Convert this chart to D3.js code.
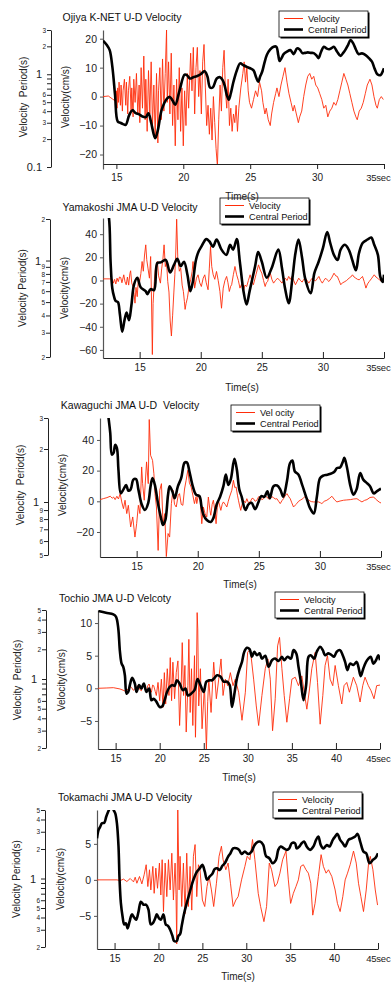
<!DOCTYPE html>
<html>
<head>
<meta charset="utf-8">
<script src="https://cdn.jsdelivr.net/npm/d3@7"></script>
<style>
body { margin: 0; background: #fff; }
svg { display: block; font-family: "Liberation Sans", Arial, sans-serif; }
text { white-space: pre; }
</style>
</head>
<body>
<svg id="chart" width="391" height="983"></svg>
<script>
// ---- data: [time (s), value] ----
const titles = ['Ojiya K-NET U-D Velocity', 'Yamakoshi JMA U-D Velocity', 'Kawaguchi JMA U-D  Velocity',
  'Tochio JMA U-D Velcoty', 'Tokamachi JMA U-D Velocity'];
const periodLabels = ['Velocity  Period(s)', 'Velocity Period(s)', 'Velocity  Period(s)', 'Velocity  Period(s)', 'Velocity Period(s)'];
const legendVelocity = ['Velocity', 'Velocity', 'Vel ocity', 'Velocity', 'Velocity'];

const timeDomains = [[14, 35], [12, 35], [12, 35], [13, 45], [13, 45]];
const velDomains = [[-25, 23], [-67, 54], [-36.3, 54.3], [-9.3, 12], [-9.6, 9.7]];
const periodDomains = [[0.1, 3], [0.2, 2], [0.5, 3], [0.2, 5], [0.2, 5]];

const timeTicks = [[15, 20, 25, 30, 35], [15, 20, 25, 30, 35], [15, 20, 25, 30, 35],
  [15, 20, 25, 30, 35, 40, 45], [15, 20, 25, 30, 35, 40, 45]];
const velTicks = [[-20, -10, 0, 10, 20], [-60, -40, -20, 0, 20, 40], [-20, 0, 20, 40], [-5, 0, 5, 10], [-5, 0, 5]];
const periodTicks = [[0.1, 0.2, 0.3, 0.4, 0.5, 0.6, 1, 2, 3], [0.2, 0.3, 0.4, 0.5, 0.6, 0.7, 0.8, 0.9, 1, 2],
  [0.5, 0.6, 0.7, 0.8, 0.9, 1, 2, 3], [0.2, 0.3, 0.4, 0.5, 0.6, 1, 2, 3, 4, 5], [0.2, 0.3, 0.4, 0.5, 0.6, 1, 2, 3, 4, 5]];
const periodMinor = [[0.7, 0.8, 0.9], [], [], [0.7, 0.8, 0.9], [0.7, 0.8, 0.9]];

const ojiyaVelocity = [[14.0,0],[14.4,0.2],[14.7,-0.8],[14.95,-1.6],[15.0,2],[15.05,-4],[15.1,3],[15.15,-2],[15.2,5],[15.3,-3],[15.35,4],[15.45,-5],[15.5,2],[15.6,6],[15.7,-3],[15.75,5],[15.85,-6],[15.9,2],[16.0,7],[16.1,-5],[16.15,3],[16.25,-7],[16.3,6],[16.4,-2],[16.5,8],[16.6,-6],[16.7,4],[16.75,-9],[16.85,10],[16.95,-4],[17.05,14],[17.15,-8],[17.2,6],[17.3,-12],[17.4,9],[17.5,-6],[17.6,12],[17.7,-10],[17.8,4],[17.9,-14],[18.0,8],[18.1,-16],[18.15,2],[18.25,10],[18.35,-8],[18.45,13],[18.55,-5],[18.65,8],[18.75,23],[18.8,-2],[18.9,12],[19.0,-6],[19.1,15],[19.2,-10],[19.3,4],[19.4,-17],[19.5,6],[19.6,-8],[19.7,10],[19.8,-12],[19.9,3],[20.0,-17],[20.1,2],[20.2,-10],[20.3,8],[20.4,-4],[20.55,15],[20.65,2],[20.75,17],[20.85,-6],[20.95,10],[21.05,17],[21.15,0],[21.25,9],[21.35,-6],[21.45,12],[21.55,18],[21.65,3],[21.75,-10],[21.85,-3],[21.95,-13],[22.05,-4],[22.15,-15],[22.25,0],[22.35,-9],[22.45,-18],[22.55,-24],[22.65,-8],[22.75,4],[22.85,-5],[22.95,10],[23.05,16],[23.15,2],[23.25,-4],[23.35,6],[23.45,-10],[23.55,-4],[23.65,-12],[23.75,-6],[23.85,-9],[23.95,-3],[24.05,-12],[24.15,-4],[24.3,3],[24.45,8],[24.55,12],[24.65,5],[24.75,10],[24.85,2],[24.95,-2],[25.1,-4],[25.25,-1],[25.4,2],[25.55,0],[25.7,5],[25.85,2],[25.95,-2],[26.1,-6],[26.2,-4],[26.35,-8],[26.5,-10],[26.6,-6],[26.75,-2],[26.9,1],[27.0,3],[27.15,0],[27.3,4],[27.45,7],[27.6,10],[27.75,5],[27.9,1],[28.05,-2],[28.2,-5],[28.3,-3],[28.45,-6],[28.6,-9],[28.7,-7],[28.85,-5],[29.0,0],[29.15,4],[29.3,7],[29.45,8],[29.6,6],[29.75,7],[29.9,4],[30.05,3],[30.2,1],[30.35,-1],[30.5,-4],[30.65,-3],[30.8,-7],[30.95,-5],[31.1,-4],[31.25,-2],[31.4,-3],[31.55,-1],[31.7,2],[31.85,5],[32.0,8],[32.15,6],[32.3,4],[32.45,1],[32.6,-2],[32.75,-5],[32.9,-7],[33.0,-8],[33.15,-5],[33.3,-4],[33.45,-2],[33.6,1],[33.75,4],[33.95,6],[34.1,4],[34.25,0],[34.4,-3],[34.5,-4],[34.65,-1],[34.8,0],[34.95,-1]];
const ojiyaPeriod = [[14.0,2.3],[14.3,2.05],[14.5,1.82],[14.7,1.2],[14.9,0.6],[15.1,0.31],[15.3,0.30],[15.5,0.29],[15.7,0.285],[15.95,0.36],[16.2,0.41],[16.45,0.38],[16.7,0.37],[16.95,0.35],[17.2,0.345],[17.4,0.38],[17.6,0.30],[17.9,0.204],[18.1,0.25],[18.4,0.42],[18.8,0.55],[19.0,0.57],[19.2,0.52],[19.4,0.47],[19.7,0.65],[20.1,0.99],[20.3,0.97],[20.5,0.9],[20.75,0.93],[21.0,0.95],[21.3,1.0],[21.6,1.08],[21.8,0.95],[22.0,0.72],[22.2,0.72],[22.5,0.9],[22.75,0.93],[22.95,0.86],[23.1,0.75],[23.25,0.60],[23.4,0.53],[23.55,0.62],[23.75,0.83],[24.0,1.1],[24.25,1.31],[24.5,1.25],[24.75,1.2],[25.0,1.16],[25.25,1.1],[25.45,0.92],[25.6,0.83],[25.75,0.95],[25.9,1.07],[26.05,1.3],[26.25,1.62],[26.5,1.85],[26.75,1.98],[26.95,1.98],[27.1,1.6],[27.2,1.39],[27.35,1.5],[27.5,1.65],[27.75,1.75],[28.0,1.82],[28.25,1.65],[28.5,1.9],[28.7,1.85],[28.9,1.69],[29.1,1.7],[29.3,1.72],[29.55,1.7],[29.75,1.69],[29.95,1.6],[30.1,1.49],[30.3,1.75],[30.5,1.98],[30.7,1.9],[30.9,1.86],[31.1,1.92],[31.25,1.98],[31.5,1.75],[31.75,1.58],[31.95,1.7],[32.1,1.82],[32.3,2.05],[32.5,2.34],[32.7,2.15],[32.9,1.85],[33.1,1.65],[33.35,1.68],[33.6,1.62],[33.85,1.5],[34.1,1.37],[34.3,1.15],[34.5,1.0],[34.75,0.98],[34.9,1.07],[35.0,1.16]];

const yamakoshiVelocity = [[12.0,1.4],[12.5,1.4],[12.75,1.2],[12.85,-2.3],[12.95,1],[13.05,-3],[13.15,2],[13.25,-1],[13.35,3],[13.45,2.6],[13.55,-2],[13.7,4.9],[13.8,-1],[13.9,-3.7],[14.0,3],[14.1,-4],[14.2,6],[14.26,8.4],[14.35,-2],[14.45,-5.2],[14.55,-12],[14.62,-19.6],[14.7,-6],[14.8,-14],[14.9,2],[15.0,-0.9],[15.1,6],[15.2,16.4],[15.3,8],[15.4,22],[15.5,30.8],[15.58,18],[15.68,10.7],[15.8,2],[15.9,20.7],[15.96,-10],[16.04,-64],[16.1,-20],[16.2,-0.9],[16.3,12],[16.45,16.4],[16.55,4],[16.7,-2.3],[16.8,10],[16.9,18],[17.0,30.8],[17.1,12],[17.2,16],[17.3,-0.9],[17.4,-10],[17.5,-35],[17.6,-48],[17.7,-30],[17.8,-10],[17.88,5],[17.95,22],[18.03,53],[18.12,20],[18.25,8],[18.36,10.7],[18.48,-4],[18.58,-9.5],[18.66,-18],[18.72,-25],[18.8,-20],[18.91,-15],[19.05,-5],[19.18,0.6],[19.3,8],[19.37,16.4],[19.45,4],[19.5,-6.6],[19.65,2],[19.78,4.9],[19.92,-2],[20.05,-5.2],[20.2,2],[20.33,4.9],[20.45,-2],[20.6,-8],[20.7,10],[20.8,29.4],[20.9,12],[21.02,4.9],[21.15,1],[21.29,7.8],[21.43,0],[21.57,-9.5],[21.7,-24],[21.84,-6.6],[21.98,0],[22.12,3.5],[22.23,-2],[22.34,-9.5],[22.45,-5],[22.53,-3.7],[22.67,5],[22.8,12.1],[22.94,4.9],[23.08,0],[23.21,-6.6],[23.35,-3],[23.49,-9.5],[23.62,-4],[23.76,-5.2],[23.9,0],[24.04,4.9],[24.18,0],[24.31,-3.7],[24.52,5],[24.73,13.5],[24.87,9],[25.0,6.3],[25.14,0],[25.27,-5.2],[25.37,-2],[25.47,-0.9],[25.58,3],[25.69,6.3],[25.82,1],[25.96,-2.3],[26.12,0],[26.29,2],[26.47,0],[26.65,-2.3],[26.78,0],[26.92,2],[27.06,0],[27.2,3.5],[27.33,1],[27.47,3.5],[27.61,0],[27.75,-3.7],[27.88,-1],[28.02,2],[28.16,0],[28.3,-1.4],[28.43,1],[28.57,2],[28.71,0],[28.85,-2.3],[28.98,0],[29.12,2],[29.26,0.5],[29.4,-0.3],[29.53,1.5],[29.67,3.5],[29.81,0],[29.95,-2.3],[30.08,0],[30.22,2],[30.35,0.5],[30.49,-0.9],[30.7,2],[30.91,6.3],[31.05,4],[31.18,3.5],[31.32,0],[31.46,-3.7],[31.6,-2],[31.73,-1.4],[31.94,0],[32.14,2],[32.28,3],[32.42,4.9],[32.55,3],[32.69,2],[32.83,1],[32.97,0.6],[33.1,2],[33.24,3.5],[33.38,-1],[33.52,-6.6],[33.65,-3],[33.79,-0.9],[34.0,2],[34.2,4.9],[34.34,3],[34.48,2],[34.62,0.5],[34.75,-0.3],[34.9,0.5],[35.0,0.6]];
const yamakoshiPeriod = [[12.3,2.4],[12.49,2.03],[12.62,0.98],[12.76,0.63],[12.9,0.55],[13.03,0.51],[13.22,0.50],[13.38,0.41],[13.57,0.305],[13.76,0.37],[13.93,0.42],[14.13,0.37],[14.32,0.47],[14.54,0.67],[14.81,0.75],[15.08,0.64],[15.49,0.60],[15.63,0.57],[15.9,0.62],[16.18,0.61],[16.45,0.96],[16.72,0.97],[17.13,1.01],[17.49,0.82],[17.81,0.93],[18.08,1.03],[18.36,0.91],[18.63,0.98],[18.91,0.79],[19.15,0.60],[19.35,0.70],[19.6,1.0],[19.8,1.15],[20.05,1.26],[20.45,1.43],[20.7,1.38],[21.0,1.26],[21.3,1.42],[21.7,1.2],[22.1,1.10],[22.4,1.3],[22.65,1.2],[22.95,1.43],[23.2,0.98],[23.5,0.60],[23.75,0.48],[24.0,0.60],[24.45,0.91],[24.7,1.15],[25.0,0.98],[25.4,0.75],[25.8,0.88],[26.35,1.2],[26.65,0.88],[26.9,0.63],[27.2,0.49],[27.5,0.74],[27.75,1.13],[28.0,1.42],[28.3,1.04],[28.55,0.74],[29.0,0.58],[29.3,0.81],[29.65,0.98],[30.0,1.23],[30.35,1.61],[30.6,1.34],[30.9,1.10],[31.2,1.01],[31.45,1.2],[31.8,1.30],[32.15,1.18],[32.4,1.01],[32.7,0.85],[32.95,1.13],[33.25,1.34],[33.65,1.42],[33.95,1.47],[34.2,1.30],[34.5,1.10],[34.7,0.76],[34.9,0.70],[35.0,0.79]];

const kawaguchiVelocity = [[12.0,1.1],[12.3,1.8],[12.57,2.4],[12.84,3.3],[13.0,2.0],[13.11,2.8],[13.24,1.1],[13.38,3.3],[13.51,1.5],[13.65,5],[13.78,-0.4],[13.92,-4.8],[14.05,0.7],[14.19,-8],[14.32,-2.6],[14.51,-16.7],[14.68,-10.2],[14.86,-23.3],[15.0,-14.6],[15.14,-2.6],[15.27,-8],[15.41,22.4],[15.49,11.5],[15.62,0.7],[15.81,25.7],[15.95,11.5],[16.03,53.3],[16.14,30],[16.3,26.7],[16.41,18],[16.5,5],[16.62,-3.7],[16.76,-32],[16.89,7.2],[17.03,11.5],[17.16,-14.6],[17.3,-8],[17.43,-36],[17.57,-21],[17.7,-23.3],[17.84,-1.5],[17.97,7.2],[18.1,-2],[18.24,-3.7],[18.4,4],[18.51,5],[18.65,-2],[18.78,-2.6],[18.92,8],[19.05,13.7],[19.19,20.2],[19.32,12],[19.46,9.3],[19.6,4],[19.73,-1.5],[19.86,3],[19.92,-1.5],[20.05,4],[20.19,2.8],[20.33,-14.6],[20.46,-3.7],[20.6,-8],[20.74,-10.2],[20.87,2.8],[21.0,-6],[21.07,-9.1],[21.18,-2],[21.28,0.7],[21.4,-6],[21.5,-14.6],[21.6,-4],[21.69,0.7],[21.8,-3],[21.89,-5.9],[22.0,-2],[22.1,-0.4],[22.25,-2],[22.38,-3.7],[22.5,0],[22.6,2.8],[22.79,7.2],[22.92,13.7],[23.03,9],[23.14,9.3],[23.25,4],[23.33,0.7],[23.43,-3],[23.52,-5.9],[23.63,-2],[23.74,0.7],[23.9,-1],[24.02,1.7],[24.15,-1],[24.29,-0.4],[24.45,2],[24.56,1.7],[24.7,0],[24.84,0.7],[24.98,3],[25.11,2.8],[25.25,1],[25.38,1.7],[25.52,3.5],[25.66,2.8],[25.8,1.5],[25.93,1.7],[26.07,3],[26.2,2.4],[26.35,1.5],[26.48,1.7],[26.62,0],[26.75,-1.5],[26.9,0.5],[27.02,1.7],[27.15,3.5],[27.3,5],[27.45,3],[27.57,1.7],[27.7,-1],[27.84,-3.7],[27.98,-2.5],[28.11,-1.5],[28.25,0],[28.39,0.7],[28.6,1.7],[28.8,3.3],[28.95,2],[29.07,0.7],[29.3,-0.2],[29.48,-0.4],[29.7,-0.4],[29.89,-0.4],[30.05,-1],[30.16,-1.5],[30.35,0],[30.57,0.7],[30.8,2],[30.98,3.3],[31.2,1],[31.39,-0.4],[31.65,0.2],[31.94,0.7],[32.2,0.9],[32.49,1.1],[32.75,1.5],[33.03,1.7],[33.25,0.5],[33.44,-0.4],[33.65,0.6],[33.85,1.1],[34.1,2.5],[34.4,2.8],[34.55,1.5],[34.67,0.7],[34.85,-0.5],[35.0,-1.1]];
const kawaguchiPeriod = [[12.6,3.4],[12.7,3.0],[12.84,2.46],[12.97,1.86],[13.11,1.90],[13.24,2.11],[13.38,2.03],[13.51,1.52],[13.7,1.12],[13.92,1.18],[14.14,1.25],[14.32,1.16],[14.51,1.18],[14.73,1.34],[14.95,1.35],[15.14,1.18],[15.41,0.97],[15.68,0.90],[15.95,0.99],[16.14,1.23],[16.3,1.37],[16.49,1.25],[16.76,0.97],[17.03,0.79],[17.16,0.74],[17.35,0.79],[17.57,1.10],[17.7,1.23],[17.92,1.15],[18.11,1.05],[18.38,1.23],[18.65,1.37],[18.92,1.67],[19.11,1.68],[19.32,1.49],[19.59,1.23],[19.86,1.10],[20.14,1.08],[20.3,0.95],[20.46,0.85],[20.74,0.79],[21.07,0.77],[21.28,0.81],[21.55,0.97],[21.83,1.07],[22.1,1.23],[22.3,1.43],[22.5,1.25],[22.7,1.34],[23.0,1.76],[23.2,1.53],[23.4,1.18],[23.6,1.07],[23.9,0.90],[24.15,0.97],[24.4,0.99],[24.7,0.91],[24.95,0.99],[25.2,1.08],[25.45,1.07],[25.7,1.15],[25.9,1.05],[26.2,1.23],[26.5,1.24],[26.75,1.18],[27.0,1.07],[27.3,1.31],[27.55,1.66],[27.75,1.72],[27.95,1.49],[28.25,1.43],[28.5,1.28],[28.95,1.03],[29.2,0.92],[29.5,0.86],[29.75,1.07],[30.0,1.36],[30.25,1.41],[30.6,1.43],[31.0,1.46],[31.2,1.49],[31.4,1.56],[31.65,1.57],[31.9,1.71],[32.0,1.78],[32.2,1.59],[32.5,1.23],[32.75,1.10],[33.0,1.18],[33.3,1.46],[33.55,1.34],[33.85,1.28],[34.1,1.23],[34.4,1.12],[34.65,1.15],[34.9,1.18],[35.0,1.19]];

const tochioVelocity = [[13.0,0],[14.0,0.05],[14.74,0.1],[15.49,-0.1],[16.05,-0.4],[16.25,-0.2],[16.43,-0.2],[16.6,0.3],[16.8,0.15],[17.0,-0.3],[17.18,-0.1],[17.4,0.3],[17.56,0.4],[17.75,-0.2],[17.93,-0.36],[18.05,0.3],[18.2,0.5],[18.35,-0.2],[18.5,-0.5],[18.65,0.4],[18.8,0.66],[18.95,-0.3],[19.06,-0.6],[19.2,0.5],[19.32,0.4],[19.5,-0.5],[19.62,-1.1],[19.81,0.9],[20.0,-1.9],[20.19,1.4],[20.38,-2.9],[20.53,2.4],[20.68,-2.4],[20.86,3],[21.05,-1.1],[21.2,4.7],[21.35,-1.9],[21.5,4],[21.69,-1.6],[21.88,2.4],[22.07,4.2],[22.26,-5.7],[22.44,0.4],[22.56,7],[22.71,-1.1],[22.86,3.5],[23.01,-6.7],[23.2,0.4],[23.31,7.5],[23.46,-3.7],[23.61,3],[23.76,-5.7],[23.95,5],[24.06,-7.5],[24.14,-2.1],[24.25,11.6],[24.32,9.1],[24.43,-2.7],[24.51,-0.6],[24.62,3],[24.81,-6.2],[25.08,0.4],[25.3,-9.3],[25.45,-2],[25.57,1.4],[25.83,-3.7],[26.13,4],[26.43,-1.6],[26.7,1.4],[26.96,4.5],[27.19,-1.1],[27.45,1.4],[27.72,0.4],[28.02,2.4],[28.32,0.4],[28.58,1.4],[28.96,-0.6],[29.34,-4.9],[29.72,-0.6],[29.98,5.5],[30.28,6],[30.66,1.4],[30.96,-2.7],[31.23,-5.7],[31.6,-1.1],[31.98,3],[32.28,4.5],[32.55,1.4],[32.81,-6.5],[33.11,-1.6],[33.38,6.5],[33.6,7.8],[33.87,3],[34.13,-1.1],[34.43,-5.2],[34.74,-1.6],[35.0,1.4],[35.38,1.7],[35.75,0.4],[36.13,1.9],[36.4,-0.6],[36.7,-3.2],[37.0,-0.1],[37.26,3],[37.64,5.5],[37.91,0.9],[38.21,-5.5],[38.51,-1.1],[38.77,3.5],[39.04,5],[39.34,1.4],[39.64,0.4],[39.91,3.5],[40.28,0.4],[40.66,-2.4],[40.92,0.4],[41.23,0.9],[41.53,-0.6],[41.98,1.7],[42.36,0.4],[42.74,-2.1],[43.04,0.4],[43.3,1.7],[43.68,0.4],[43.98,-0.36],[44.32,-1.6],[44.62,0.4],[45.0,0.5]];
const tochioPeriod = [[13.05,4.88],[13.9,4.69],[14.74,4.52],[15.05,4.27],[15.3,3.25],[15.49,1.89],[15.68,1.43],[15.86,1.33],[16.05,1.09],[16.24,0.71],[16.43,0.74],[16.62,0.87],[16.88,1.03],[17.18,0.90],[17.37,0.74],[17.67,0.87],[17.93,0.80],[18.2,0.90],[18.5,0.74],[18.8,0.80],[19.06,0.61],[19.32,0.63],[19.62,0.59],[20.0,0.52],[20.3,0.53],[20.56,0.61],[20.83,0.74],[21.13,0.83],[21.43,0.87],[21.69,0.85],[21.95,0.97],[22.26,0.90],[22.63,0.77],[22.93,0.80],[23.2,0.68],[23.57,0.71],[23.95,0.77],[24.3,1.0],[24.62,0.87],[25.0,0.74],[25.3,0.94],[25.68,0.97],[25.94,0.97],[26.2,1.02],[26.51,1.09],[26.89,1.06],[27.26,0.94],[27.64,0.94],[27.94,0.87],[28.2,0.52],[28.51,0.74],[28.77,1.02],[29.08,1.28],[29.34,1.49],[29.6,1.89],[29.9,2.07],[30.2,2.01],[30.47,1.68],[30.73,1.89],[31.04,1.74],[31.34,1.82],[31.6,1.61],[31.98,1.72],[32.36,1.33],[32.74,1.55],[33.11,1.61],[33.49,1.52],[33.87,1.68],[34.13,1.55],[34.51,1.68],[34.89,1.61],[35.19,1.96],[35.49,1.82],[35.75,1.33],[36.02,0.94],[36.32,0.61],[36.62,0.87],[36.89,1.68],[37.15,1.74],[37.53,1.61],[37.83,1.89],[38.21,2.12],[38.51,1.96],[38.77,1.74],[39.15,1.82],[39.53,1.74],[39.79,1.68],[40.09,1.89],[40.47,1.96],[40.77,1.74],[41.04,1.49],[41.3,1.23],[41.6,1.43],[41.98,1.39],[42.36,1.49],[42.55,1.33],[42.81,1.07],[43.11,1.28],[43.42,1.49],[43.68,1.61],[43.94,1.68],[44.25,1.43],[44.55,1.55],[44.81,1.74],[45.0,1.55]];

const tokamachiVelocity = [[13.0,0],[15.27,0],[15.64,-0.1],[16.02,0.1],[16.4,-0.23],[16.78,0.19],[17.16,-0.28],[17.35,0.37],[17.54,-0.47],[17.84,0.47],[18.11,-0.56],[18.37,0.7],[18.6,2.1],[18.79,-0.93],[18.98,1.4],[19.13,-1.4],[19.36,1.87],[19.51,-1.87],[19.7,1.63],[19.89,-1.17],[20.11,2.33],[20.27,-2.1],[20.42,2.8],[20.57,-4.4],[20.76,2.33],[20.95,-2.33],[21.14,2.8],[21.33,-1.4],[21.52,3.7],[21.7,-2.8],[21.89,2.33],[22.0,-2],[22.08,-8.9],[22.2,9.8],[22.35,-1.4],[22.46,3.27],[22.65,-3.7],[22.84,2.33],[23.03,-4.7],[23.22,3.7],[23.41,-3.7],[23.6,1.87],[23.79,-4.2],[23.98,3.27],[24.17,4.9],[24.36,-2.33],[24.55,2.1],[24.73,1.4],[25.0,-2.8],[25.27,-3.7],[25.53,-0.93],[25.76,0.47],[26.03,-1.4],[26.29,-3.7],[26.6,-0.47],[26.9,3.27],[27.17,4.67],[27.36,2.8],[27.67,1.4],[27.93,2.33],[28.2,-0.47],[28.5,-3.7],[28.81,-2.8],[29.07,-2.33],[29.46,0],[29.84,1.87],[30.1,3.27],[30.41,2.8],[30.71,5.6],[30.98,2.8],[31.36,-1.87],[31.63,-3.7],[32.01,-5.8],[32.31,-3.7],[32.62,2.33],[32.88,1.4],[33.26,-0.93],[33.53,-0.47],[33.83,0.93],[34.14,2.8],[34.52,4],[34.79,0],[35.05,-3.27],[35.36,-1.87],[35.66,-0.93],[35.93,0],[36.2,1.87],[36.5,2.1],[36.8,1.4],[37.07,0.93],[37.34,-0.47],[37.57,-4.9],[37.83,-3.27],[38.21,0.47],[38.52,3.5],[38.78,1.87],[39.09,0.93],[39.36,1.4],[39.74,0.47],[40.12,-1.4],[40.38,-3.27],[40.69,-4.4],[40.99,-2.33],[41.26,0],[41.53,0.93],[41.83,2.1],[42.21,4],[42.52,2.33],[42.78,-0.47],[43.05,-2.33],[43.35,-4.4],[43.66,-1.4],[43.93,2.33],[44.12,3.27],[44.42,1.4],[44.69,-1.4],[44.95,-3.5]];
const tokamachiPeriod = [[13.0,2.57],[13.18,3.13],[13.37,3.38],[13.56,3.66],[13.83,3.71],[14.05,4.27],[14.32,4.92],[14.51,5.4],[14.7,5.6],[14.89,5.0],[15.08,4.62],[15.27,3.66],[15.45,2.12],[15.57,0.97],[15.72,0.56],[15.91,0.41],[16.1,0.34],[16.29,0.35],[16.48,0.31],[16.7,0.36],[16.97,0.43],[17.23,0.40],[17.46,0.38],[17.73,0.46],[17.99,0.58],[18.3,0.54],[18.6,0.54],[18.86,0.48],[19.13,0.34],[19.36,0.35],[19.62,0.39],[19.81,0.43],[20.08,0.39],[20.27,0.38],[20.57,0.43],[20.83,0.34],[21.06,0.33],[21.33,0.30],[21.59,0.26],[21.78,0.23],[22.08,0.23],[22.27,0.26],[22.46,0.27],[22.65,0.33],[22.92,0.44],[23.22,0.56],[23.52,0.7],[23.86,0.90],[24.12,1.05],[24.39,1.18],[24.7,1.27],[25.0,1.38],[25.27,1.18],[25.53,0.97],[25.84,1.05],[26.14,1.12],[26.41,1.25],[26.68,1.27],[26.98,1.22],[27.28,1.35],[27.55,1.43],[27.93,1.67],[28.2,1.81],[28.5,2.03],[28.88,2.03],[29.18,1.96],[29.46,1.78],[29.84,1.88],[30.22,1.78],[30.6,1.88],[30.86,2.12],[31.17,2.32],[31.55,2.38],[31.93,2.20],[32.24,1.70],[32.62,1.61],[33.0,1.43],[33.38,1.55],[33.64,1.96],[33.91,2.12],[34.29,2.03],[34.6,1.96],[34.9,2.03],[35.17,2.29],[35.55,2.29],[35.74,2.03],[36.04,2.12],[36.31,2.29],[36.58,2.38],[36.88,2.12],[37.26,1.96],[37.64,2.12],[37.95,2.48],[38.21,2.68],[38.48,2.20],[38.78,2.03],[39.17,2.20],[39.47,2.12],[39.85,2.48],[40.12,2.68],[40.38,2.85],[40.69,2.48],[40.99,2.29],[41.26,2.12],[41.64,2.48],[42.02,2.57],[42.4,2.68],[42.67,2.85],[42.97,2.38],[43.35,1.88],[43.66,1.81],[44.04,1.43],[44.42,1.55],[44.69,1.61],[45.0,1.81]];

const velocitySeries = [ojiyaVelocity, yamakoshiVelocity, kawaguchiVelocity, tochioVelocity, tokamachiVelocity];
const periodSeries = [ojiyaPeriod, yamakoshiPeriod, kawaguchiPeriod, tochioPeriod, tokamachiPeriod];

// ---- layout (pixels) ----
const W = 391;
const layouts = [
  { velX: 103, right: 384, top: 30, bottom: 169, xAxisY: 164, tickIn: false, perX: 51, perTop: 30, perBottom: 167,
    titleX: 122, titleY: 21, perLabelX: 23, velLabelX: 65, labelY: 97, legend: [279, 11], timeX: 242, timeY: 200 },
  { velX: 103, right: 384, top: 218, bottom: 358, xAxisY: 358, tickIn: true, perX: 50, perTop: 219, perBottom: 357,
    titleX: 130, titleY: 211, perLabelX: 22, velLabelX: 64, labelY: 288, legend: [220, 198], timeX: 242, timeY: 391 },
  { velX: 100, right: 381, top: 418, bottom: 557, xAxisY: 557, tickIn: true, perX: 48, perTop: 418, perBottom: 555,
    titleX: 130, titleY: 409, perLabelX: 20, velLabelX: 62, labelY: 485, legend: [231, 405], timeX: 240, timeY: 588 },
  { velX: 98, right: 380, top: 610, bottom: 749, xAxisY: 749, tickIn: true, perX: 46, perTop: 610, perBottom: 748,
    titleX: 115, titleY: 602, perLabelX: 17, velLabelX: 61, labelY: 680, legend: [275, 592], timeX: 239, timeY: 781 },
  { velX: 97, right: 378, top: 810, bottom: 949, xAxisY: 949, tickIn: true, perX: 45, perTop: 810, perBottom: 947,
    titleX: 125, titleY: 801, perLabelX: 16, velLabelX: 60, labelY: 879, legend: [273, 792], timeX: 238, timeY: 980 }
];

const RED = '#ff2d0a';
const AXIS = '#222';
const FONT = '"Liberation Sans", Arial, sans-serif';

const svg = d3.select('#chart');
const timeLayer = [];

layouts.forEach((L, i) => {
  const g = svg.append('g');

  const x = d3.scaleLinear().domain(timeDomains[i]).range([L.velX, L.right]);
  const yv = d3.scaleLinear().domain(velDomains[i]).range([L.bottom, L.top]);
  const yp = d3.scaleLog().domain(periodDomains[i]).range([L.perBottom, L.perTop]);

  const clipId = 'clip' + i;
  svg.append('clipPath').attr('id', clipId)
    .append('rect')
    .attr('x', L.velX).attr('y', L.top)
    .attr('width', L.right - L.velX).attr('height', L.xAxisY - L.top);

  // title
  g.append('text')
    .attr('x', L.titleX).attr('y', L.titleY)
    .attr('text-anchor', 'middle')
    .attr('font-size', 10.5)
    .attr('fill', '#111')
    .text(titles[i]);

  // period axis (log)
  const big = d => d === 1 || d === 0.1;
  const perAxis = d3.axisLeft(yp)
    .tickValues(periodTicks[i].concat(periodMinor[i]))
    .tickSize(4)
    .tickSizeOuter(0)
    .tickFormat(d => {
      if (periodMinor[i].includes(d)) return '';
      if (d === 0.1) return '0.1';
      if (d < 1) return String(Math.round(d * 10));
      return String(d);
    });
  const pa = g.append('g')
    .attr('transform', `translate(${L.perX},0)`)
    .call(perAxis)
    .attr('font-family', FONT);
  pa.select('.domain').attr('stroke', AXIS);
  pa.selectAll('.tick line').attr('stroke', AXIS);
  pa.selectAll('.tick text')
    .attr('fill', '#222')
    .attr('x', d => big(d) ? -9 : -5)
    .attr('font-size', d => big(d) ? 11 : 6.5);

  g.append('text')
    .attr('transform', `translate(${L.perLabelX},${L.labelY}) rotate(-90)`)
    .attr('text-anchor', 'middle')
    .attr('dy', '0.35em')
    .attr('font-size', 10)
    .attr('fill', '#222')
    .text(periodLabels[i]);

  // velocity axis
  const va = g.append('g')
    .attr('transform', `translate(${L.velX},0)`)
    .call(d3.axisLeft(yv).tickValues(velTicks[i]).tickSize(3).tickSizeOuter(0).tickPadding(3))
    .attr('font-family', FONT);
  va.select('.domain').attr('stroke', '#555').attr('stroke-width', 1.2);
  va.selectAll('.tick line').attr('stroke', '#555');
  va.selectAll('.tick text').attr('font-size', 10.5).attr('fill', '#222');

  g.append('text')
    .attr('transform', `translate(${L.velLabelX},${L.labelY}) rotate(-90)`)
    .attr('text-anchor', 'middle')
    .attr('dy', '0.35em')
    .attr('font-size', 10)
    .attr('fill', '#222')
    .text('Velocity(cm/s)');

  // time axis; the last label carries the unit, kept inside the page edge
  const ticks = timeTicks[i];
  const last = ticks[ticks.length - 1];
  const xa = g.append('g')
    .attr('transform', `translate(0,${L.xAxisY})`)
    .call(d3.axisBottom(x).tickValues(ticks)
      .tickSize(L.tickIn ? -6 : 5).tickSizeOuter(0)
      .tickPadding(L.tickIn ? 6 : 5)
      .tickFormat(d => d === last ? d + 'sec' : String(d)))
    .attr('font-family', FONT);
  xa.select('.domain').attr('stroke', AXIS);
  xa.selectAll('.tick line').attr('stroke', AXIS);
  xa.selectAll('.tick text').attr('font-size', 10).attr('fill', '#222');
  xa.selectAll('.tick text').filter(d => d === last)
    .attr('font-size', 9.5)
    .attr('letter-spacing', -0.2)
    .attr('text-anchor', 'end')
    .attr('x', W - 1 - x(last));

  // series
  const plot = g.append('g').attr('clip-path', `url(#${clipId})`);
  plot.append('path')
    .datum(velocitySeries[i])
    .attr('fill', 'none')
    .attr('stroke', RED)
    .attr('stroke-width', 0.9)
    .attr('stroke-linejoin', 'round')
    .attr('d', d3.line().x(d => x(d[0])).y(d => yv(d[1])));

  plot.append('path')
    .datum(periodSeries[i])
    .attr('fill', 'none')
    .attr('stroke', '#000')
    .attr('stroke-width', 2.6)
    .attr('stroke-linejoin', 'round')
    .attr('d', d3.line().x(d => x(d[0])).y(d => yp(d[1])).curve(d3.curveCatmullRom));

  // legend
  const [lx, ly] = L.legend;
  const lg = g.append('g');
  lg.append('rect').attr('x', lx + 1.5).attr('y', ly + 1.5).attr('width', 89).attr('height', 26).attr('fill', '#000');
  lg.append('rect').attr('x', lx).attr('y', ly).attr('width', 89).attr('height', 26)
    .attr('fill', '#fff').attr('stroke', '#000').attr('stroke-width', 0.8);
  const items = [
    { label: legendVelocity[i], color: RED, w: 1, dy: 7.5 },
    { label: 'Central Period', color: '#000', w: 2.6, dy: 18.5 }
  ];
  items.forEach(it => {
    lg.append('line')
      .attr('x1', lx + 5).attr('x2', lx + 24)
      .attr('y1', ly + it.dy).attr('y2', ly + it.dy)
      .attr('stroke', it.color).attr('stroke-width', it.w);
    lg.append('text')
      .attr('x', lx + 29).attr('y', ly + it.dy + 3.3)
      .attr('font-size', 9.2)
      .attr('fill', '#111')
      .text(it.label);
  });

  timeLayer.push(L);
});

// "Time(s)" labels last, they sit on top of the next panel's legend
timeLayer.forEach(L => {
  svg.append('text')
    .attr('x', L.timeX).attr('y', L.timeY)
    .attr('text-anchor', 'middle')
    .attr('font-size', 10)
    .attr('fill', '#222')
    .text('Time(s)');
});
</script>
</body>
</html>
